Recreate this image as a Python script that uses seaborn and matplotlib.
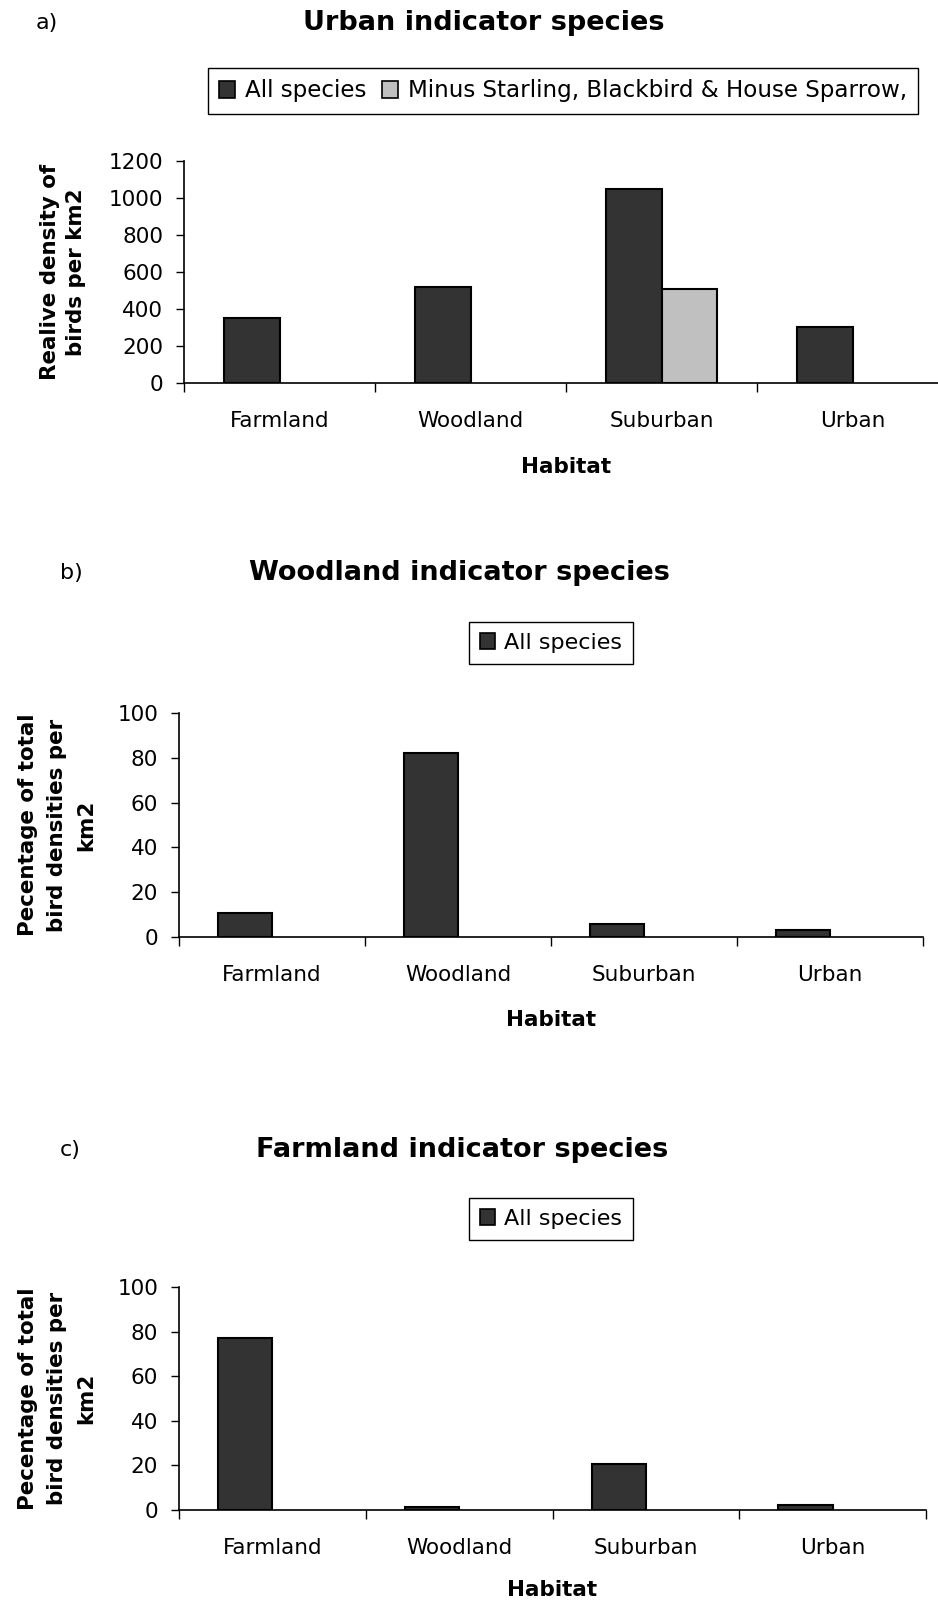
import numpy as np
import pandas as pd
import matplotlib
matplotlib.use("Agg")
import matplotlib.pyplot as plt
import seaborn as sns
from matplotlib.patches import Patch
from matplotlib.ticker import FixedLocator

# Data
habitats = ["Farmland", "Woodland", "Suburban", "Urban"]
series_names = ["All species", "Minus Starling, Blackbird & House Sparrow,"]
series_colors = ["#333333", "#c0c0c0"]

urban_all = [350, 520, 1050, 305]
urban_minus = [np.nan, np.nan, 510, np.nan]
woodland_all = [10.8, 82.3, 5.7, 3.0]
farmland_all = [77.2, 1.3, 20.6, 2.1]
no_values = [np.nan] * 4

urban_ticks = [0, 200, 400, 600, 800, 1000, 1200]
pct_ticks = [0, 20, 40, 60, 80, 100]

sns.set_style("white")
plt.rcParams["font.family"] = ["DejaVu Sans"]
plt.rcParams["text.color"] = "black"
plt.rcParams["axes.labelcolor"] = "black"
plt.rcParams["xtick.color"] = "black"
plt.rcParams["ytick.color"] = "black"

W, H = 938, 1609
fig = plt.figure(figsize=(W / 100, H / 100), dpi=100)


def make_frame(first, second):
    return pd.DataFrame({
        "Habitat": habitats * 2,
        "Series": [series_names[0]] * 4 + [series_names[1]] * 4,
        "Value": list(first) + list(second),
    })


def draw_panel(rect, df, ymax, ticks, ylabel, lspace, ylab_x, xlab_y,
               letter, letter_pos, title, title_pos, legend_pos, n_legend, leg_size):
    left, top, right, bottom = rect
    ax = fig.add_axes([left / W, 1 - bottom / H, (right - left) / W, (bottom - top) / H])
    sns.barplot(data=df, x="Habitat", y="Value", hue="Series",
                order=habitats, hue_order=series_names,
                palette=dict(zip(series_names, series_colors)),
                width=0.58, gap=0, edgecolor="black", linewidth=1.5,
                errorbar=None, legend=False, ax=ax)
    ax.set_xlim(-0.5, 3.5)
    ax.set_ylim(0, ymax)
    ax.set_yticks(ticks)
    for s in ["top", "right"]:
        ax.spines[s].set_visible(False)
    for s in ["left", "bottom"]:
        ax.spines[s].set_color("black")
        ax.spines[s].set_linewidth(1.2)

    ax.xaxis.set_minor_locator(FixedLocator([-0.5, 0.5, 1.5, 2.5, 3.5]))
    ax.tick_params(axis="x", which="major", length=0, pad=20, labelsize=15.5, bottom=True)
    ax.tick_params(axis="x", which="minor", length=6.5, width=1, color="black", bottom=True)
    ax.tick_params(axis="y", length=6, width=1, color="black", pad=9, labelsize=15.5, left=True)

    ax.set_xlabel("Habitat", fontsize=15.5, fontweight="bold", va="center")
    ax.xaxis.set_label_coords(0.5, xlab_y)
    ax.set_ylabel(ylabel, fontsize=15.4, fontweight="bold", linespacing=lspace,
                  va="center", ha="center")
    ax.yaxis.set_label_coords(ylab_x, 0.5)

    handles = [Patch(facecolor=series_colors[i], edgecolor="black", linewidth=1.2,
                     label=series_names[i]) for i in range(n_legend)]
    leg = ax.legend(handles=handles, loc="center",
                    bbox_to_anchor=(legend_pos[0] / W, 1 - legend_pos[1] / H),
                    bbox_transform=fig.transFigure, ncol=n_legend,
                    frameon=True, fancybox=False, framealpha=1, edgecolor="black",
                    fontsize=leg_size, handlelength=0.7, handleheight=0.7,
                    handletextpad=0.4, columnspacing=0.7, borderpad=0.5)
    leg.get_frame().set_linewidth(1)

    fig.text(letter_pos[0] / W, 1 - letter_pos[1] / H, letter,
             ha="left", va="center", fontsize=16)
    fig.text(title_pos[0] / W, 1 - title_pos[1] / H, title,
             ha="center", va="center", fontsize=19.5, fontweight="bold")
    return ax


draw_panel((184, 161, 948, 383), make_frame(urban_all, urban_minus), 1200, urban_ticks,
           "Realive density of\nbirds per km2", 1.4, -0.158, -0.378,
           "a)", (36, 23), "Urban indicator species", (484, 23), (563, 91), 2, 16.6)

draw_panel((179, 713, 923, 937), make_frame(woodland_all, no_values), 100, pct_ticks,
           "Pecentage of total\nbird densities per\nkm2", 1.55, -0.164, -0.37,
           "b)", (60, 573), "Woodland indicator species", (459, 573), (551, 643), 1, 16)

draw_panel((179, 1287, 926, 1510), make_frame(farmland_all, no_values), 100, pct_ticks,
           "Pecentage of total\nbird densities per\nkm2", 1.55, -0.163, -0.36,
           "c)", (60, 1150), "Farmland indicator species", (462, 1150), (551, 1219), 1, 16)

fig.savefig("out.png", dpi=100)
